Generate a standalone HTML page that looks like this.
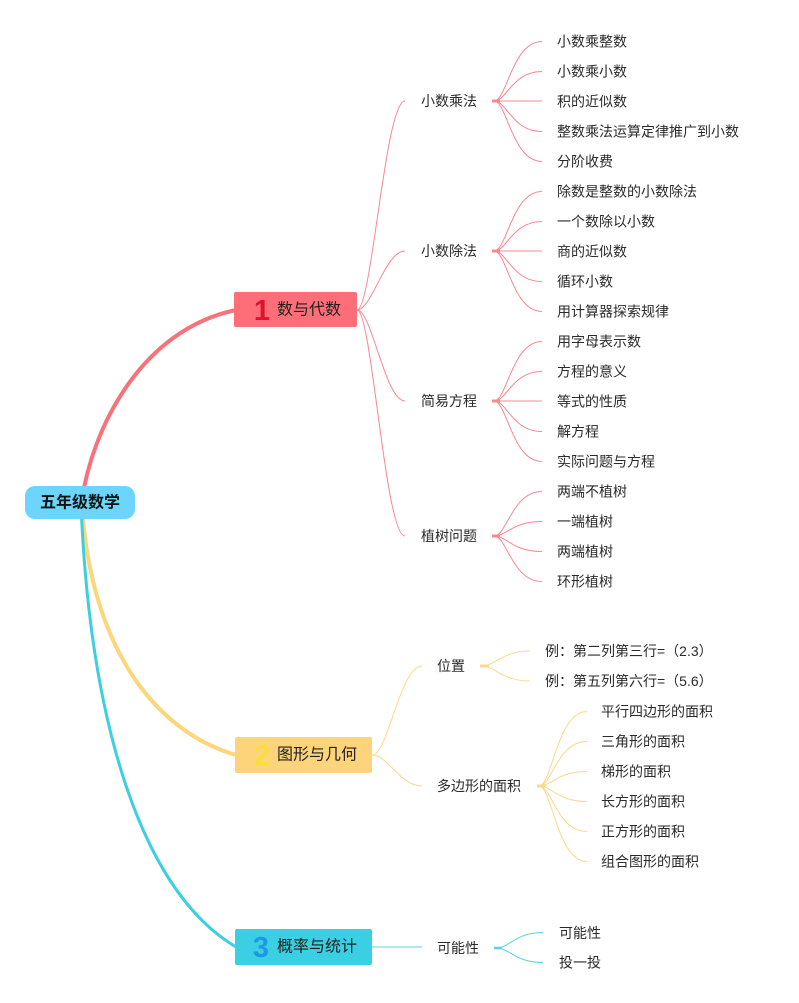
<!DOCTYPE html>
<html>
<head>
<meta charset="utf-8">
<style>
  html,body{margin:0;padding:0;background:#fff;}
  svg{display:block;}
  text{font-family:"Liberation Sans","Noto Sans CJK SC",sans-serif;}
  .leaf{font-size:14px;fill:#2a2a2a;}
  .l2{font-size:14px;fill:#2a2a2a;}
  .br{font-size:16px;fill:#1f1f1f;}
  .num{font-family:"Liberation Sans",sans-serif;font-weight:bold;font-size:29px;}
</style>
</head>
<body>
<svg width="799" height="1003" viewBox="0 0 799 1003" xmlns="http://www.w3.org/2000/svg">
  <!-- main branches -->
  <path d="M82,500 C92,430 140,330 236,310" fill="none" stroke="#f8727c" stroke-width="4"/>
  <path d="M82,505 C90,640 150,730 236,755" fill="none" stroke="#fbd67a" stroke-width="4"/>
  <path d="M81,505 C90,720 140,890 236,947" fill="none" stroke="#3ccfe0" stroke-width="3"/>

  <!-- branch 1 level-2 connectors -->
  <g fill="none" stroke="#f58893" stroke-width="1">
    <path d="M357,310 C372,310 385,101 405,101"/>
    <path d="M357,310 C372,310 385,251 405,251"/>
    <path d="M357,310 C372,310 385,401 405,401"/>
    <path d="M357,310 C372,310 385,536 405,536"/>
  </g>
  <!-- branch 1 stubs -->
  <g stroke="#f58893" stroke-width="3">
    <line x1="492" y1="101" x2="500" y2="101"/>
    <line x1="492" y1="251" x2="500" y2="251"/>
    <line x1="492" y1="401" x2="500" y2="401"/>
    <line x1="492" y1="536" x2="500" y2="536"/>
  </g>
  <!-- branch 1 fans -->
  <g fill="none" stroke="#f58893" stroke-width="1">
    <path d="M494,101 C507,101 512,41.5 542,41.5"/>
    <path d="M494,101 C507,101 512,71.5 542,71.5"/>
    <path d="M494,101 L542,101"/>
    <path d="M494,101 C507,101 512,131.5 542,131.5"/>
    <path d="M494,101 C507,101 512,161.5 542,161.5"/>

    <path d="M494,251 C507,251 512,191.5 542,191.5"/>
    <path d="M494,251 C507,251 512,221.5 542,221.5"/>
    <path d="M494,251 L542,251"/>
    <path d="M494,251 C507,251 512,281.5 542,281.5"/>
    <path d="M494,251 C507,251 512,311.5 542,311.5"/>

    <path d="M494,401 C507,401 512,341.5 542,341.5"/>
    <path d="M494,401 C507,401 512,371.5 542,371.5"/>
    <path d="M494,401 L542,401"/>
    <path d="M494,401 C507,401 512,431.5 542,431.5"/>
    <path d="M494,401 C507,401 512,461.5 542,461.5"/>

    <path d="M494,536 C507,536 512,491.5 542,491.5"/>
    <path d="M494,536 C507,536 512,521.5 542,521.5"/>
    <path d="M494,536 C507,536 512,551.5 542,551.5"/>
    <path d="M494,536 C507,536 512,581.5 542,581.5"/>
  </g>

  <!-- branch 2 connectors -->
  <g fill="none" stroke="#fcd88a" stroke-width="1">
    <path d="M372,755 C388,755 400,666 422,666"/>
    <path d="M372,755 C388,755 400,786 422,786"/>
    <path d="M482,666 C495,666 502,651 530,651"/>
    <path d="M482,666 C495,666 502,681 530,681"/>
    <path d="M539,786 C552,786 557,711.5 587,711.5"/>
    <path d="M539,786 C552,786 557,741.5 587,741.5"/>
    <path d="M539,786 C552,786 557,771.5 587,771.5"/>
    <path d="M539,786 C552,786 557,801.5 587,801.5"/>
    <path d="M539,786 C552,786 557,831.5 587,831.5"/>
    <path d="M539,786 C552,786 557,861.5 587,861.5"/>
  </g>
  <g stroke="#fcd88a" stroke-width="3">
    <line x1="480" y1="666" x2="489" y2="666"/>
    <line x1="537" y1="786" x2="546" y2="786"/>
  </g>

  <!-- branch 3 connectors -->
  <g fill="none" stroke="#5dd0e2" stroke-width="1">
    <line x1="372" y1="947" x2="422" y2="947"/>
    <path d="M496,948 C510,948 515,932.5 543,932.5"/>
    <path d="M496,948 C510,948 515,962.5 543,962.5"/>
  </g>
  <line x1="494" y1="948" x2="502" y2="948" stroke="#5dd0e2" stroke-width="2.5"/>

  <!-- root -->
  <rect x="25" y="486" width="110" height="33" rx="10" ry="10" fill="#6bd5fb"/>
  <text x="80" y="503" text-anchor="middle" dominant-baseline="central" font-size="16" font-weight="bold" fill="#111">五年级数学</text>

  <!-- branch boxes -->
  <rect x="234" y="292" width="123" height="35" rx="2" fill="#fd6e79"/>
  <text class="num" x="262" y="311" text-anchor="middle" dominant-baseline="central" fill="#e0132d">1</text>
  <text class="br" x="277" y="310" dominant-baseline="central">数与代数</text>

  <rect x="235" y="737" width="137" height="36" rx="2" fill="#fdd47b"/>
  <text class="num" x="262" y="756" text-anchor="middle" dominant-baseline="central" fill="#f8e03c">2</text>
  <text class="br" x="277" y="755" dominant-baseline="central">图形与几何</text>

  <rect x="235" y="929" width="137" height="36" rx="2" fill="#3bcfe3"/>
  <text class="num" x="261" y="948" text-anchor="middle" dominant-baseline="central" fill="#1e97e6">3</text>
  <text class="br" x="277" y="947" dominant-baseline="central">概率与统计</text>

  <!-- level 2 labels -->
  <g class="l2" dominant-baseline="central">
    <text class="l2" x="421" y="101" dominant-baseline="central">小数乘法</text>
    <text class="l2" x="421" y="251" dominant-baseline="central">小数除法</text>
    <text class="l2" x="421" y="401" dominant-baseline="central">简易方程</text>
    <text class="l2" x="421" y="536" dominant-baseline="central">植树问题</text>
    <text class="l2" x="437" y="666" dominant-baseline="central">位置</text>
    <text class="l2" x="437" y="786" dominant-baseline="central">多边形的面积</text>
    <text class="l2" x="437" y="948" dominant-baseline="central">可能性</text>
  </g>

  <!-- leaves branch 1 -->
  <text class="leaf" x="557" y="41.5" dominant-baseline="central">小数乘整数</text>
  <text class="leaf" x="557" y="71.5" dominant-baseline="central">小数乘小数</text>
  <text class="leaf" x="557" y="101.5" dominant-baseline="central">积的近似数</text>
  <text class="leaf" x="557" y="131.5" dominant-baseline="central">整数乘法运算定律推广到小数</text>
  <text class="leaf" x="557" y="161.5" dominant-baseline="central">分阶收费</text>
  <text class="leaf" x="557" y="191.5" dominant-baseline="central">除数是整数的小数除法</text>
  <text class="leaf" x="557" y="221.5" dominant-baseline="central">一个数除以小数</text>
  <text class="leaf" x="557" y="251.5" dominant-baseline="central">商的近似数</text>
  <text class="leaf" x="557" y="281.5" dominant-baseline="central">循环小数</text>
  <text class="leaf" x="557" y="311.5" dominant-baseline="central">用计算器探索规律</text>
  <text class="leaf" x="557" y="341.5" dominant-baseline="central">用字母表示数</text>
  <text class="leaf" x="557" y="371.5" dominant-baseline="central">方程的意义</text>
  <text class="leaf" x="557" y="401.5" dominant-baseline="central">等式的性质</text>
  <text class="leaf" x="557" y="431.5" dominant-baseline="central">解方程</text>
  <text class="leaf" x="557" y="461.5" dominant-baseline="central">实际问题与方程</text>
  <text class="leaf" x="557" y="491.5" dominant-baseline="central">两端不植树</text>
  <text class="leaf" x="557" y="521.5" dominant-baseline="central">一端植树</text>
  <text class="leaf" x="557" y="551.5" dominant-baseline="central">两端植树</text>
  <text class="leaf" x="557" y="581.5" dominant-baseline="central">环形植树</text>

  <!-- leaves branch 2 -->
  <text class="leaf" x="545" y="651" dominant-baseline="central">例：第二列第三行=（2.3）</text>
  <text class="leaf" x="545" y="681" dominant-baseline="central">例：第五列第六行=（5.6）</text>
  <text class="leaf" x="601" y="711.5" dominant-baseline="central">平行四边形的面积</text>
  <text class="leaf" x="601" y="741.5" dominant-baseline="central">三角形的面积</text>
  <text class="leaf" x="601" y="771.5" dominant-baseline="central">梯形的面积</text>
  <text class="leaf" x="601" y="801.5" dominant-baseline="central">长方形的面积</text>
  <text class="leaf" x="601" y="831.5" dominant-baseline="central">正方形的面积</text>
  <text class="leaf" x="601" y="861.5" dominant-baseline="central">组合图形的面积</text>

  <!-- leaves branch 3 -->
  <text class="leaf" x="559" y="933" dominant-baseline="central">可能性</text>
  <text class="leaf" x="559" y="962.5" dominant-baseline="central">投一投</text>
</svg>
</body>
</html>
